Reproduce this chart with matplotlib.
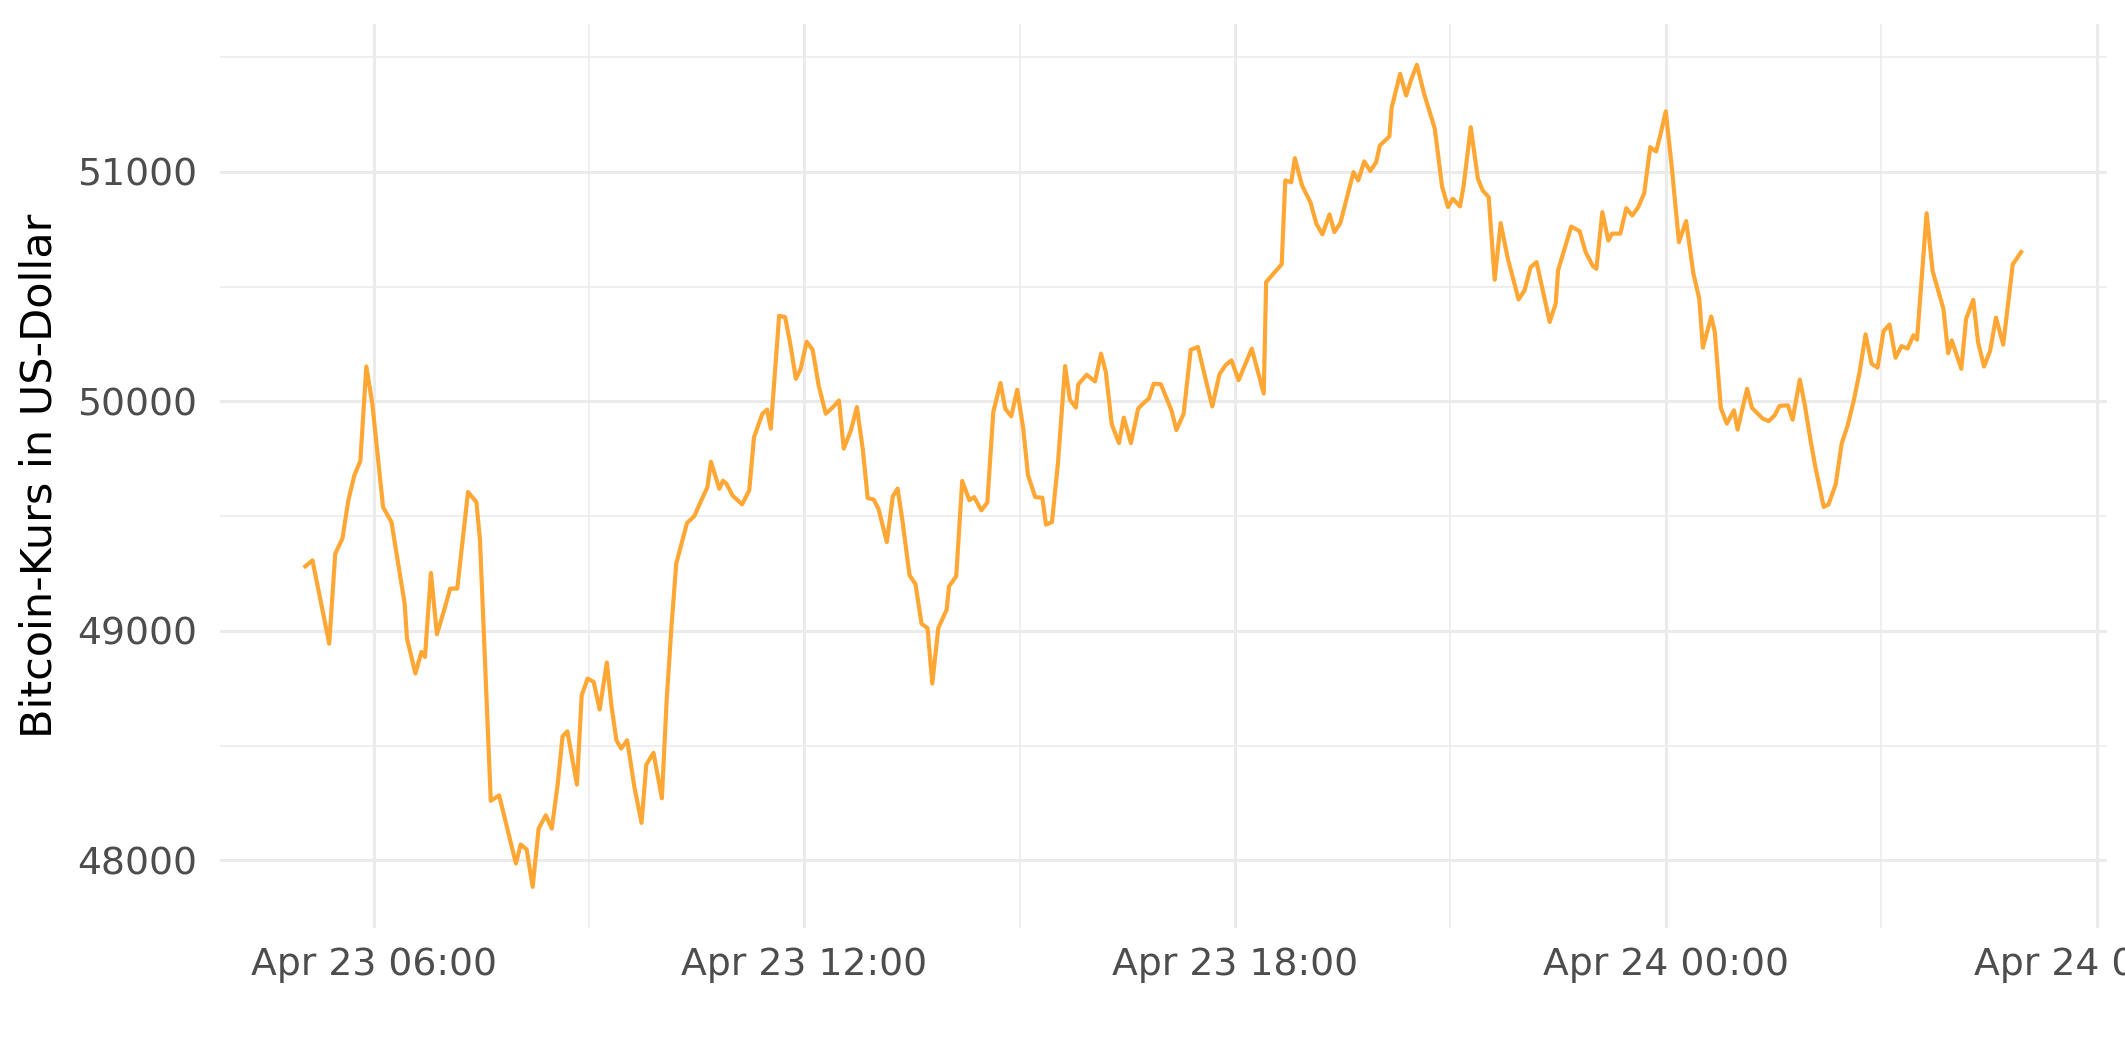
import matplotlib.pyplot as plt
import matplotlib.dates as mdates
from matplotlib.ticker import MultipleLocator, StrMethodFormatter
import pandas as pd

# minutes after 2021-04-23 00:00 (~5 min sampling, corners only)
minutes = [303, 309, 323, 328, 334, 339, 344, 349, 354, 359, 368, 375, 386, 388, 395, 400,
           403, 408, 413, 419, 424, 430, 439, 446, 449, 458, 465, 479, 483, 488, 493, 498,
           504, 509, 514, 518, 522, 530, 534, 539, 544, 549, 555, 559, 563, 567, 572, 578,
           584, 588, 594, 601, 605, 609, 613, 622, 628, 634, 639, 642, 649, 652, 655, 660,
           668, 674, 678, 685, 689, 692, 699, 704, 708, 713, 717, 722, 727, 732, 738, 744,
           749, 753, 759, 764, 769, 773, 778, 782, 789, 794, 798, 802, 808, 813, 818, 823,
           827, 832, 839, 841, 847, 852, 858, 862, 868, 873, 878, 884, 888, 893, 898, 903,
           907, 913, 919, 922, 927, 932, 938, 942, 947, 949, 956, 963, 968, 972, 977, 983,
           987, 993, 999, 1003, 1008, 1012, 1018, 1027, 1031, 1037, 1043, 1049, 1055, 1061,
           1067, 1072, 1077, 1083, 1094, 1104, 1106, 1112, 1119, 1122, 1127, 1130, 1136,
           1143, 1148, 1153, 1159, 1163, 1168, 1174, 1179, 1183, 1188, 1193, 1198, 1201,
           1209, 1211, 1218, 1223, 1227, 1232, 1238, 1247, 1253, 1258, 1262, 1268, 1271,
           1277, 1283, 1287, 1292, 1297, 1302, 1308, 1317, 1322, 1327, 1332, 1343, 1348,
           1350, 1361, 1368, 1373, 1379, 1382, 1387, 1392, 1395, 1402, 1407, 1412, 1417,
           1422, 1427, 1432, 1436, 1440, 1445, 1451, 1457, 1463, 1468, 1471, 1478, 1481,
           1486, 1491, 1497, 1500, 1508, 1512, 1521, 1526, 1531, 1535, 1542, 1546, 1552,
           1556, 1561, 1565, 1572, 1576, 1582, 1587, 1592, 1597, 1602, 1607, 1612, 1617,
           1622, 1627, 1632, 1637, 1642, 1647, 1650, 1658, 1663, 1668, 1672, 1676, 1679,
           1687, 1691, 1697, 1701, 1706, 1711, 1716, 1722, 1730, 1737]

price = [49281, 49307, 48944, 49336, 49402, 49569, 49678, 49740, 50152, 49990, 49539, 49474,
         49119, 48966, 48814, 48908, 48886, 49252, 48985, 49089, 49184, 49184, 49605, 49561,
         49394, 48259, 48283, 47986, 48069, 48047, 47884, 48138, 48196, 48138, 48334, 48540,
         48562, 48330, 48719, 48792, 48777, 48657, 48862, 48668, 48523, 48487, 48523, 48320,
         48163, 48417, 48468, 48270, 48697, 49017, 49293, 49470, 49499, 49569, 49625, 49737,
         49619, 49654, 49641, 49590, 49551, 49612, 49844, 49946, 49964, 49881, 50373, 50367,
         50260, 50098, 50142, 50260, 50225, 50070, 49946, 49975, 50004, 49794, 49874, 49975,
         49787, 49579, 49572, 49532, 49387, 49586, 49620, 49482, 49242, 49203, 49031, 49012,
         48770, 49012, 49092, 49194, 49238, 49653, 49569, 49583, 49525, 49559, 49954, 50080,
         49968, 49935, 50051, 49881, 49678, 49583, 49580, 49463, 49474, 49729, 50154, 50007,
         49973, 50074, 50116, 50087, 50208, 50128, 49900, 49818, 49929, 49818, 49968, 49990,
         50012, 50077, 50075, 49959, 49875, 49945, 50225, 50237, 50106, 49978, 50118, 50157,
         50179, 50092, 50230, 50034, 50520, 50556, 50597, 50963, 50955, 51060, 50941, 50868,
         50774, 50728, 50815, 50738, 50777, 50898, 50999, 50963, 51046, 51004, 51043, 51115,
         51155, 51282, 51428, 51333, 51399, 51467, 51341, 51188, 50937, 50847, 50883, 50850,
         50937, 51195, 50970, 50919, 50890, 50530, 50777, 50622, 50444, 50484, 50585, 50607,
         50346, 50426, 50571, 50762, 50742, 50651, 50590, 50578, 50825, 50701, 50731, 50731,
         50842, 50810, 50847, 50908, 51108, 51089, 51173, 51264, 51021, 50694, 50786, 50559,
         50447, 50234, 50370, 50302, 49972, 49903, 49961, 49877, 50055, 49972, 49925, 49914,
         49939, 49980, 49983, 49920, 50095, 49990, 49830, 49714, 49540, 49551, 49638, 49816,
         49895, 50001, 50128, 50292, 50164, 50147, 50306, 50335, 50190, 50241, 50230, 50288,
         50269, 50820, 50568, 50476, 50404, 50210, 50266, 50142, 50360, 50443, 50258, 50152,
         50219, 50365, 50247, 50597, 50651]

times = pd.Timestamp("2021-04-23") + pd.to_timedelta(minutes, unit="min")

fig = plt.figure(figsize=(10.625, 5.31), dpi=200)
ax = fig.add_axes([0.1033, 0.1262, 0.8882, 0.8515])

ax.plot(times, price, color="#FFA735", lw=1.5)
ax.margins(x=0.05, y=0.05)

ax.xaxis.set_major_locator(mdates.HourLocator(byhour=[0, 6, 12, 18]))
ax.xaxis.set_minor_locator(mdates.HourLocator(byhour=[3, 9, 15, 21]))
ax.xaxis.set_major_formatter(mdates.DateFormatter("%b %d %H:%M"))
ax.yaxis.set_major_locator(MultipleLocator(1000))
ax.yaxis.set_minor_locator(MultipleLocator(500))
ax.yaxis.set_major_formatter(StrMethodFormatter("{x:.0f}"))

ax.grid(which="major", color="#EBEBEB", lw=1.1)
ax.grid(which="minor", color="#EBEBEB", lw=0.55)
ax.set_axisbelow(True)
for s in ax.spines.values():
    s.set_visible(False)
ax.tick_params(which="both", length=0, labelsize=13.6, labelcolor="#4D4D4D")
ax.tick_params(axis="x", pad=7)
ax.tick_params(axis="y", pad=8)

ax.set_ylabel("Bitcoin-Kurs in US-Dollar", fontsize=15.5, color="black", labelpad=6)

fig.savefig("out.png", dpi=200)
